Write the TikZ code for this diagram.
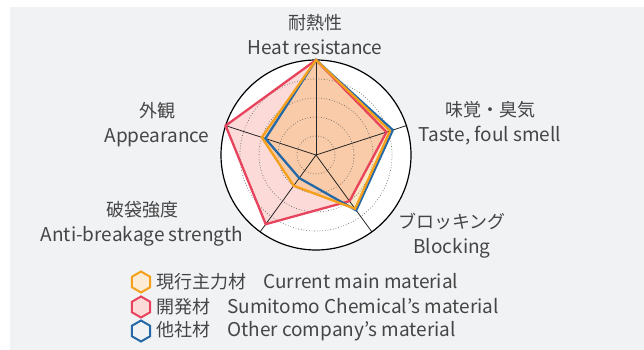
\documentclass[tikz,border=0pt]{standalone}
\usepackage{fontspec}
\setmainfont{Noto Sans CJK JP}
\usetikzlibrary{shapes.geometric,positioning}
\definecolor{bgray}{HTML}{F1F2F4}
\definecolor{txt}{HTML}{454545}
\definecolor{cur}{HTML}{F5A01A}
\definecolor{dev}{HTML}{E8435C}
\definecolor{oth}{HTML}{2468A8}
\definecolor{devfill}{HTML}{FBDAD8}
\definecolor{curfill}{HTML}{FDEBD3}
\newcommand\jp{\fontsize{18}{25}\selectfont}

\begin{document}
\begin{tikzpicture}[x=1pt,y=-1pt,
    axis label/.style={text=txt,font=\fontsize{19}{25}\selectfont,align=center,inner sep=0pt},
    ring/.style={black!60,dotted,line width=0.7pt},
    spoke/.style={black!85,line width=0.8pt},
    series/.style={line width=2.3pt,line join=miter},
    key/.style={regular polygon,regular polygon sides=6,shape border rotate=90,
      minimum size=21pt,inner sep=0pt,line width=2pt},
    key text/.style={text=txt,font=\fontsize{19}{22}\selectfont,inner sep=0pt}]
\useasboundingbox (0,0) rectangle (644,350);
\fill[bgray] (10,7) rectangle (644,350);

\begin{scope}[shift={(316,155)},x=19pt,y=19pt]
  \coordinate (c) at (0,0);
  \fill[white] (c) circle (5);
  % series areas
  \fill[devfill] (90:5) -- (18:3.9) -- (-54:3) -- (234:4.5) -- (162:5) -- cycle;
  \fill[cur,fill opacity=0.25] (90:5) -- (18:4.1) -- (-54:3.5) -- (234:2) -- (162:3) -- cycle;
  \foreach \r in {1,...,4}
    \draw[ring] (c) circle (\r);
  \foreach \a/\n in {90/heat,18/taste,-54/block,234/break,162/look}
    \draw[spoke] (c) -- (\a:5) coordinate (\n);
  \draw[line width=1.2pt] (c) circle (5);
  % series outlines
  \draw[series,dev] (90:5) -- (18:3.9) -- (-54:3) -- (234:4.5) -- (162:5) -- cycle;
  \draw[series,oth] (90:5) -- (18:4.25) -- (-54:3.6) -- (234:1.5) -- (162:2.8) -- cycle;
  \draw[series,cur] (90:5) -- (18:4.1) -- (-54:3.5) -- (234:2) -- (162:3) -- cycle;
\end{scope}

\node[axis label] (lheat) at (315,34.5) {{\jp 耐熱性}\\Heat resistance};
\node[axis label] (ltaste) at (490,123.5) {{\jp 味覚・臭気}\\Taste, foul smell};
\node[axis label] (lblock) at (452,236) {{\jp ブロッキング}\\Blocking};
\node[axis label] (lbreak) at (142,223.5) {{\jp 破袋強度}\\Anti-breakage strength};
\node[axis label] (llook) at (157,124.5) {{\jp 外観}\\Appearance};

\node[key,draw=cur,fill=curfill] (kcur) at (141,282) {};
\node[key,draw=dev,fill=devfill] (kdev) at (141,307) {};
\node[key,draw=oth] (koth) at (141,331) {};
\node[key text,right=5pt of kcur] (tcur) {{\jp 現行主力材}\hspace{17pt}Current main material};
\node[key text,right=5pt of kdev] (tdev) {{\jp 開発材}\hspace{17pt}Sumitomo Chemical’s material};
\node[key text,right=5pt of koth] (toth) {{\jp 他社材}\hspace{17pt}Other company’s material};
\end{tikzpicture}
\end{document}
